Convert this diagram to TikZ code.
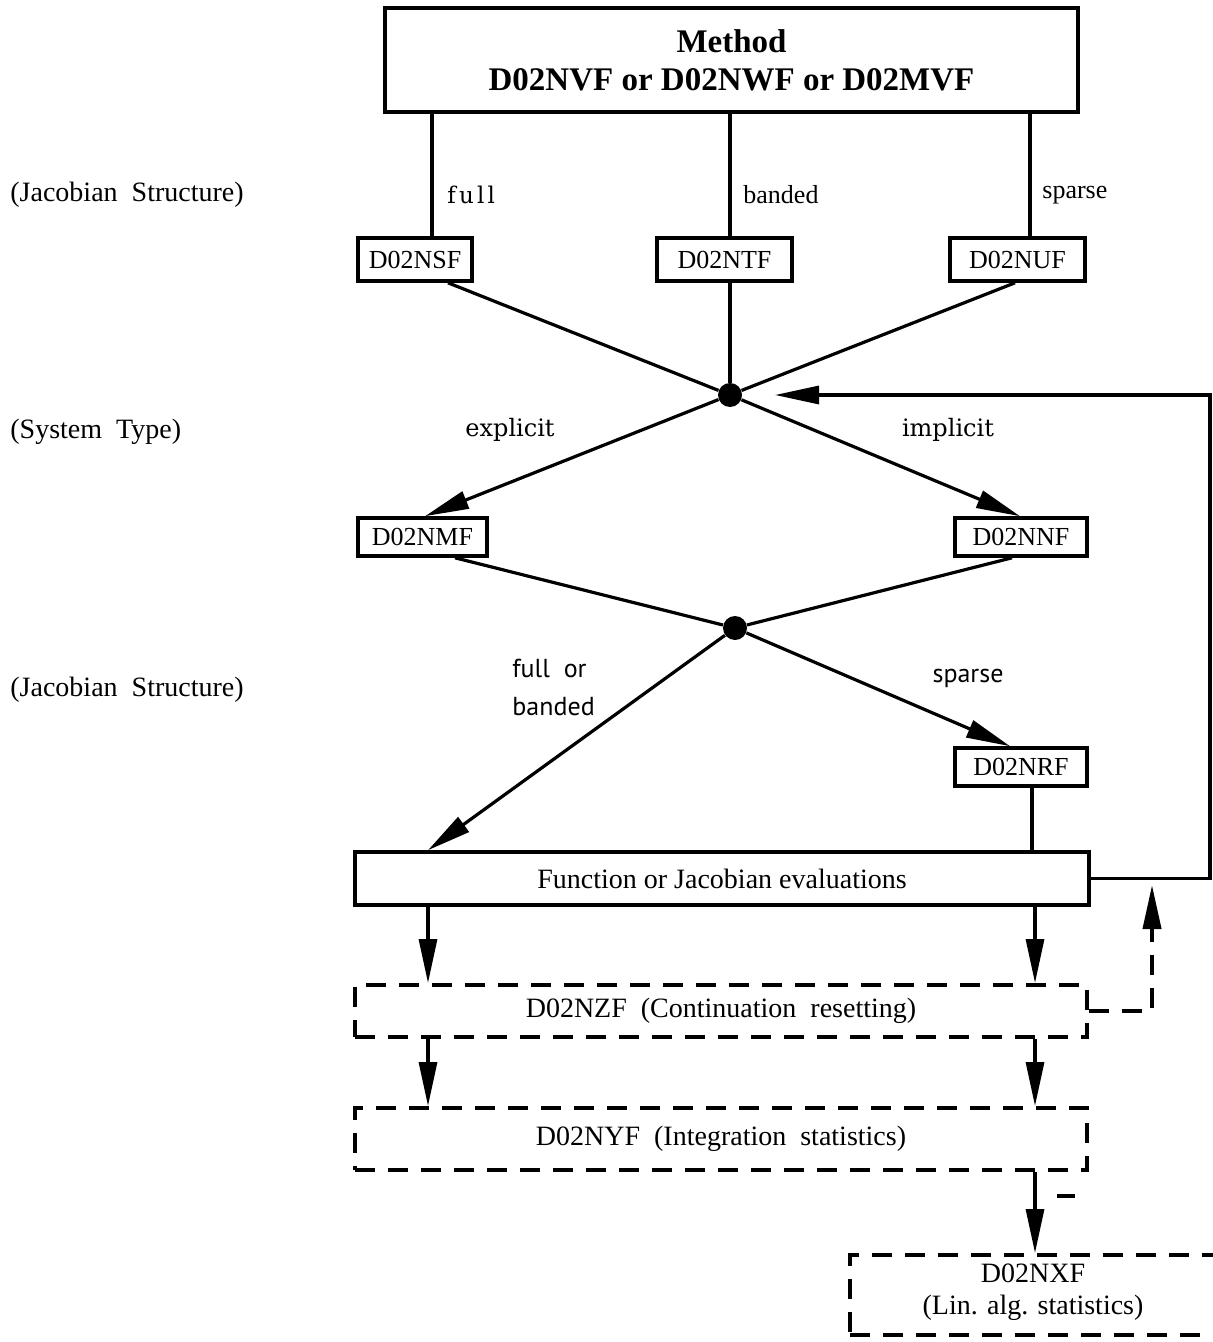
\documentclass[tikz,border=0pt]{standalone}
\usepackage{fontspec}
\setmainfont{Liberation Serif}
\newfontfamily\wideserif{DejaVu Serif}
\newfontfamily\spacedserif[LetterSpace=14]{DejaVu Serif}
\newfontfamily\flaresans{PT Sans}
\usetikzlibrary{arrows.meta}
\begin{document}
\begin{tikzpicture}[x=0.5pt,y=-0.5pt,
  rbox/.style={draw,line width=1.8pt,inner sep=0pt,minimum height=21.5pt,
    font=\fontsize{13}{15}\selectfont},
  dbox/.style={draw,line width=2pt,dash pattern=on 10pt off 6.5pt,inner sep=0pt,
    font=\fontsize{14}{17}\selectfont},
  conn/.style={line width=1.6pt},
  arr/.style={conn,-{Triangle[length=22pt,width=9pt]}},
  darr/.style={arr,line width=2pt,dash pattern=on 10pt off 6.5pt},
  dot/.style={circle,fill,inner sep=0pt,minimum size=12pt},
  side/.style={anchor=west,inner sep=0pt,font=\fontsize{14}{17}\selectfont},
  lbl/.style={anchor=west,inner sep=0pt,font=\fontsize{13}{16}\selectfont},
  wlbl/.style={inner sep=0pt,font=\wideserif\fontsize{12}{15}\selectfont},
  slbl/.style={inner sep=0pt,font=\flaresans\fontsize{13}{19}\selectfont},
]
\useasboundingbox[fill=white] (0,0) rectangle (1212,1342);

% row labels on the left
\node[side] (rowa) at (10,195) {(Jacobian\ \ Structure)};
\node[side] (rowb) at (10,432) {(System\ \ Type)};
\node[side] (rowc) at (10,690) {(Jacobian\ \ Structure)};

% method box
\node[draw,line width=1.8pt,minimum width=346.5pt,minimum height=52pt,align=center,
  font=\bfseries\fontsize{16.5}{19}\selectfont] (meth) at (731.5,60)
  {Method\\D02NVF or D02NWF or D02MVF};

% routine boxes
\node[rbox,minimum width=57pt]   (nsf) at (415,259.5) {D02NSF};
\node[rbox,minimum width=67.5pt] (ntf) at (724.5,259.5) {D02NTF};
\node[rbox,minimum width=67.5pt] (nuf) at (1017.5,259.5) {D02NUF};
\node[rbox,minimum width=64.5pt,minimum height=19pt] (nmf) at (422.5,537) {D02NMF};
\node[rbox,minimum width=66pt,minimum height=19pt]   (nnf) at (1021,537) {D02NNF};
\node[rbox,minimum width=66pt,minimum height=19pt]   (nrf) at (1021,767) {D02NRF};
\node[rbox,minimum width=367pt,minimum height=26.5pt,font=\fontsize{14}{17}\selectfont]
  (fn) at (722,878.5) {Function or Jacobian evaluations};

% optional routines
\node[dbox,minimum width=366pt,minimum height=26pt] (nzf) at (721,1011)
  {D02NZF\ \ (Continuation\ \ resetting)};
\node[dbox,minimum width=366pt,minimum height=31pt] (nyf) at (721,1139)
  {D02NYF\ \ (Integration\ \ statistics)};
\node[dbox,minimum width=205pt,minimum height=40pt] (nxf) at (1055,1295) {};
\node[align=center,inner sep=0pt,font=\fontsize{14}{16}\selectfont] (nxft) at (1033,1292)
  {D02NXF\\(Lin. alg. statistics)};

% junctions
\node[dot] (d1) at (730,395) {};
\node[dot] (d2) at (735,628) {};

% x positions of the connectors
\coordinate (xa) at (432,0);
\coordinate (xb) at (730,0);
\coordinate (xc) at (1030,0);
\coordinate (xd) at (448,0);
\coordinate (xe) at (1015,0);
\coordinate (xf) at (425,0);
\coordinate (xg) at (1020,0);
\coordinate (xh) at (455,0);
\coordinate (xi) at (1012,0);
\coordinate (xj) at (428,0);
\coordinate (xk) at (1010,0);
\coordinate (xl) at (1032,0);
\coordinate (xm) at (1035,0);
\coordinate (fbcorner) at (1210,395);
\coordinate (fbtip) at (775,395);
\coordinate (dtip) at (1152,885);

% method to Jacobian structure
\draw[conn] (meth.south -| xa) -- (nsf.north -| xa);
\draw[conn] (meth.south -| xb) -- (ntf.north -| xb);
\draw[conn] (meth.south -| xc) -- (nuf.north -| xc);
\node[font=\spacedserif\fontsize{11.5}{13}\selectfont,anchor=west,inner sep=0pt] (lfull) at (447,195) {full};
\node[lbl] (lband) at (743,195) {banded};
\node[lbl] (lsparse) at (1042,195) {sparse};

% into first junction
\draw[conn] (nsf.south -| xd) -- (d1);
\draw[conn] (ntf.south -| xb) -- (d1);
\draw[conn] (nuf.south -| xe) -- (d1);

% system type
\draw[arr] (d1) -- (nmf.north -| xf);
\draw[arr] (d1) -- (nnf.north -| xg);
\node[wlbl] (lexp) at (510,430) {explicit};
\node[wlbl] (limp) at (948,430) {implicit};

% second junction
\draw[conn] (nmf.south -| xh) -- (d2);
\draw[conn] (nnf.south -| xi) -- (d2);
\draw[arr] (d2) -- (fn.north -| xj);
\draw[arr] (d2) -- (nrf.north -| xk);
\draw[conn] (nrf.south -| xl) -- (fn.north -| xl);
\node[slbl,anchor=west,align=left] (lfb) at (512,687) {full\ \ or\\banded};
\node[slbl] (lsp2) at (968,678) {sparse};

% feedback loop
\draw[arr] (fn.east) -| (fbcorner) -- (fbtip);

% evaluations down to the optional routines
\draw[arr] (fn.south -| xj) -- (nzf.north -| xj);
\draw[arr] (fn.south -| xm) -- (nzf.north -| xm);
\draw[arr] (nzf.south -| xj) -- (nyf.north -| xj);
\draw[arr] (nzf.south -| xm) -- (nyf.north -| xm);
\draw[arr] (nyf.south -| xm) -- (nxf.north -| xm);
\draw[line width=2pt] (1057,1196) -- (1075,1196);

% resetting returns to the evaluations
\draw[darr] (nzf.east) -| (dtip);
\end{tikzpicture}
\end{document}
